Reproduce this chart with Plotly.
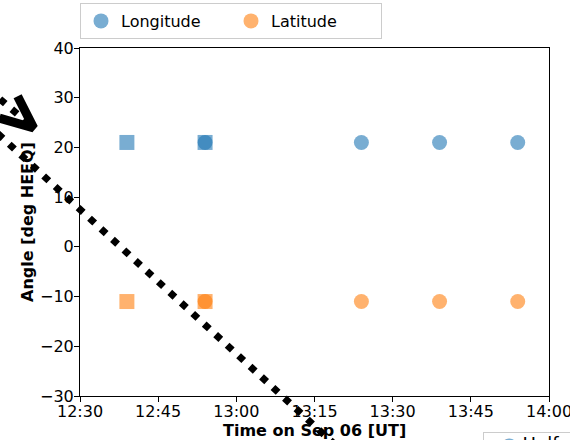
import pandas as pd
import plotly.graph_objects as go

# ---- data -------------------------------------------------------------
DAY = "2021-09-06"

# square markers (earlier fits)
square_times = ["12:39", "12:54"]
square_lon = [21, 21]
square_lat = [-11, -11]

# circle markers
circle_times = ["12:54", "13:24", "13:39", "13:54"]
circle_lon = [21, 21, 21, 21]
circle_lat = [-11, -11, -11, -11]

# diagonal track (dotted) and the arrow drawn above it
track_times = ["12:12:44", "13:20:51"]
track_angle = [24.9, -41.5]
arrow_shaft_times = ["12:10:49", "12:21:45"]
arrow_shaft_angle = [33.8, 23.9]
arrow_head_times = ["12:18:41", "12:21:45", "12:15:13"]
arrow_head_angle = [30.3, 23.9, 25.9]

x_tick_labels = ["12:30", "12:45", "13:00", "13:15", "13:30", "13:45", "14:00"]
y_range = [-30, 40]
extra_legend_label = "Half width"

# ---- layout geometry (pixels) ----------------------------------------
W, H = 570, 440
PL, PR, PT, PB = 80, 549, 48, 396
FONT = "DejaVu Sans"

BLUE = "rgba(31,119,180,0.6)"
ORANGE = "rgba(255,127,14,0.6)"


def ts(hm):
    return pd.Timestamp(f"{DAY} {hm}")


def tlist(lst):
    return [ts(v) for v in lst]


t0, t1 = ts(x_tick_labels[0]), ts(x_tick_labels[-1])
per_px = (t1 - t0) / (PR - PL)
full_x = [t0 - per_px * PL, t1 + per_px * (W - PR)]
deg_px = (y_range[1] - y_range[0]) / (PB - PT)
full_y = [y_range[0] - deg_px * (H - PB), y_range[1] + deg_px * PT]

fig = go.Figure()

fig.add_trace(go.Scatter(
    x=tlist(square_times), y=square_lon, mode="markers",
    marker=dict(symbol="square", size=15, color=BLUE, line=dict(width=0)),
    showlegend=False))
fig.add_trace(go.Scatter(
    x=tlist(square_times), y=square_lat, mode="markers",
    marker=dict(symbol="square", size=15, color=ORANGE, line=dict(width=0)),
    showlegend=False))
fig.add_trace(go.Scatter(
    x=tlist(circle_times), y=circle_lon, mode="markers", name="Longitude",
    marker=dict(symbol="circle", size=15, color=BLUE, line=dict(width=0))))
fig.add_trace(go.Scatter(
    x=tlist(circle_times), y=circle_lat, mode="markers", name="Latitude",
    marker=dict(symbol="circle", size=15, color=ORANGE, line=dict(width=0))))

# dotted track and arrow live on a full-figure axis pair sharing the same scale
fig.add_trace(go.Scatter(
    x=tlist(track_times), y=track_angle, mode="lines", xaxis="x2", yaxis="y2",
    line=dict(color="black", width=7, dash="7px,8.6px"), showlegend=False,
    hoverinfo="skip"))
fig.add_trace(go.Scatter(
    x=tlist(arrow_shaft_times), y=arrow_shaft_angle, mode="lines",
    xaxis="x2", yaxis="y2",
    line=dict(color="black", width=7, dash="7px,8.6px"), showlegend=False,
    hoverinfo="skip"))
fig.add_trace(go.Scatter(
    x=tlist(arrow_head_times), y=arrow_head_angle, mode="lines",
    xaxis="x2", yaxis="y2",
    line=dict(color="black", width=9), showlegend=False, hoverinfo="skip"))

axis_common = dict(
    showline=True, mirror=True, linecolor="black", linewidth=1,
    ticks="outside", ticklen=5, tickcolor="black", tickwidth=1,
    showgrid=False, zeroline=False, automargin=False,
    ticklabeloverflow="allow",
    tickfont=dict(family=FONT, size=16, color="black"),
)

fig.update_layout(
    width=W, height=H,
    showlegend=True,
    margin=dict(l=0, r=0, t=0, b=0),
    paper_bgcolor="white", plot_bgcolor="rgba(0,0,0,0)",
    font=dict(family=FONT, size=16, color="black"),
    xaxis=dict(domain=[PL / W, PR / W], anchor="y", type="date",
               range=[t0, t1], tickvals=tlist(x_tick_labels),
               ticktext=x_tick_labels, ticklabelstandoff=-4, **axis_common),
    yaxis=dict(domain=[1 - PB / H, 1 - PT / H], anchor="x",
               range=y_range, dtick=10, ticklabelstandoff=-3, **axis_common),
    xaxis2=dict(domain=[0, 1], anchor="y2", type="date", range=full_x,
                visible=False, fixedrange=True),
    yaxis2=dict(domain=[0, 1], anchor="x2", range=full_y,
                visible=False, fixedrange=True),
    legend=dict(orientation="h", x=PL / W, y=1 - 3 / H, xanchor="left",
                yanchor="top", bordercolor="#cccccc", borderwidth=1,
                bgcolor="white", entrywidth=105, entrywidthmode="pixels",
                font=dict(family=FONT, size=16)),
    annotations=[
        dict(text="<b>Time on Sep 06 [UT]</b>", xref="paper", yref="paper",
             x=(PL + PR) / 2 / W, y=1 - 430 / H, xanchor="center",
             yanchor="middle", showarrow=False,
             font=dict(family=FONT, size=16, color="black")),
        dict(text="<b>Angle [deg HEEQ]</b>", xref="paper", yref="paper",
             x=27 / W, y=1 - (PT + PB) / 2 / H, xanchor="center",
             yanchor="middle", textangle=-90, showarrow=False,
             font=dict(family=FONT, size=16, color="black")),
        # second legend box, running off the lower edge of the page
        dict(text=f'&nbsp;&nbsp;&nbsp;<span style="color:{BLUE}">●</span>'
                  f'&nbsp;{extra_legend_label}',
             xref="paper", yref="paper", x=483 / W, y=1 - 432 / H,
             xanchor="left", yanchor="top", showarrow=False, align="left",
             bordercolor="#cccccc", borderwidth=1, borderpad=0,
             bgcolor="white", font=dict(family=FONT, size=18, color="black")),
    ],
)

fig.write_html("out.html")
